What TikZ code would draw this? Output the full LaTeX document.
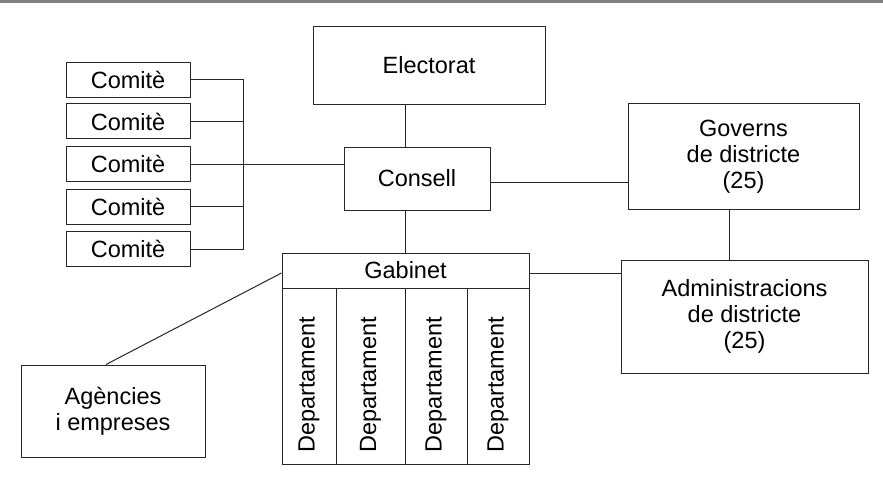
\documentclass[tikz,border=0pt]{standalone}
\usepackage{fontspec}
\setmainfont{Liberation Sans}
\begin{document}
\begin{tikzpicture}[x=1pt, y=-1pt,
  every node/.style={font=\fontsize{23.5}{26}\selectfont, text=black},
  box/.style={draw=black!85, line width=1pt, inner sep=0pt, align=center},
  link/.style={draw=black!85, line width=1pt},
  rule/.style={draw=black!50, line width=2.2pt}]
\useasboundingbox (0,0) rectangle (883,484);

% header rule
\draw[rule] (0,1.5) -- (883,1.5);

% main bodies
\node[box, minimum width=232, minimum height=78] (elec) at (429,65.5) {Electorat};
\node[box, minimum width=146, minimum height=63] (consell) at (417,178.5) {Consell};
\node[box, minimum width=231, minimum height=105] (gov) at (743.5,156.5) {Governs\\de districte\\(25)};
\node[box, minimum width=247, minimum height=113] (admin) at (744.5,316.5) {Administracions\\de districte\\(25)};
\node[box, minimum width=184, minimum height=92] (ag) at (113,411) {Agències\\i empreses};

% committees
\foreach \i/\y in {1/80,2/121.5,3/164,4/206.5,5/249}
  \node[box, minimum width=124, minimum height=35] (com\i) at (128,\y) {Comitè};
\coordinate (bus) at (243,0);

% cabinet with its departments
\node[box, minimum width=247, minimum height=35] (gab) at (405.5,270.5) {Gabinet};
\foreach \i/\x/\w in {1/309/54,2/370.5/69,3/436/62,4/498/62} {
  \node[box, minimum width=\w, minimum height=176] (dep\i) at (\x,376) {};
  \node[rotate=90, inner sep=0pt] (dept\i) at (\x,385) {Departament};
}

% connectors
\draw[link] (com1.east) -- (com1.east -| bus) -- (com5.east -| bus) -- (com5.east);
\foreach \i in {2,3,4}
  \draw[link] (com\i.east) -- (com\i.east -| bus);
\draw[link] (com3.east -| bus) -- (com3.east -| consell.west);
\draw[link] (elec.south -| gab.north) -- (consell.north -| gab.north);
\draw[link] (consell.south -| gab.north) -- (gab.north);
\draw[link] ([yshift=-3.5pt]consell.east) -- ([yshift=-3.5pt]consell.east -| gov.west);
\draw[link] ([xshift=-14.5pt]gov.south) -- ([xshift=-14.5pt]gov.south |- admin.north);
\draw[link] ([yshift=-2.5pt]gab.east) -- ([yshift=-2.5pt]gab.east -| admin.west);
\draw[link] ([xshift=-7pt]ag.north) -- ([yshift=-2.5pt]gab.west);
\end{tikzpicture}
\end{document}
